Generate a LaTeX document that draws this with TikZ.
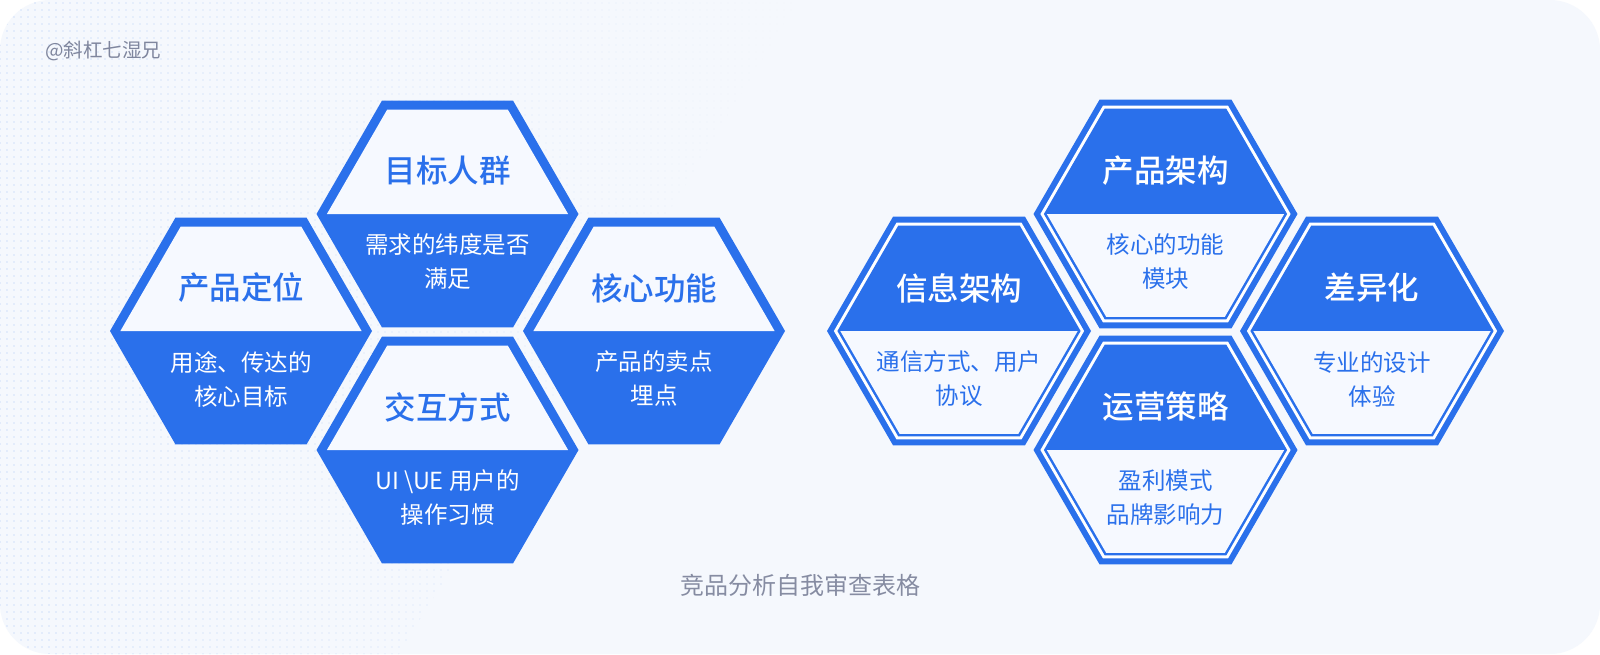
\documentclass[tikz,border=0pt]{standalone}
\usepackage{fontspec}
\setmainfont{Noto Sans CJK SC}
\newfontfamily\cjkmed{Noto Sans CJK SC Medium}
\usetikzlibrary{patterns.meta,fadings}
\definecolor{hexblue}{HTML}{2A70EB}
\definecolor{panel}{HTML}{F5F8FD}
\definecolor{innerfill}{HTML}{F6F9FF}
\definecolor{dotblue}{HTML}{A6C4F5}
\definecolor{captgray}{HTML}{868CA2}
\definecolor{markgray}{HTML}{7F869E}
\tikzfading[name=dotfade, left color=transparent!0, right color=transparent!100]
\tikzset{
  lefttitle/.style={font=\cjkmed\fontsize{31.5}{36}\selectfont, text=hexblue, inner sep=0pt},
  leftsub/.style={font=\fontsize{23.5}{34}\selectfont, text=white, align=center, inner sep=0pt},
  righttitle/.style={font=\cjkmed\fontsize{31.5}{36}\selectfont, text=white, inner sep=0pt},
  rightsub/.style={font=\fontsize{23.5}{34}\selectfont, text=hexblue, align=center, inner sep=0pt},
}
% cx cy name title sub
\newcommand{\lefthex}[5]{%
  \coordinate (#3) at (#1,#2);
  \fill[hexblue] (#1-131,#2) -- (#1-65.5,#2-113.45) -- (#1+65.5,#2-113.45) -- (#1+131,#2) -- (#1+65.5,#2+113.45) -- (#1-65.5,#2+113.45) -- cycle;
  \fill[innerfill] (#1-120.6,#2) -- (#1-60.3,#2-104.44) -- (#1+60.3,#2-104.44) -- (#1+120.6,#2) -- cycle;
  \node[lefttitle] (#3-t) at (#1,#2-43) {#4};
  \node[leftsub] (#3-s) at (#1,#2+48) {#5};
}
\newcommand{\righthex}[5]{%
  \coordinate (#3) at (#1,#2);
  \fill[hexblue] (#1-132,#2) -- (#1-66,#2-114.3) -- (#1+66,#2-114.3) -- (#1+132,#2) -- (#1+66,#2+114.3) -- (#1-66,#2+114.3) -- cycle;
  \fill[white] (#1-125.1,#2) -- (#1-62.55,#2-108.3) -- (#1+62.55,#2-108.3) -- (#1+125.1,#2) -- (#1+62.55,#2+108.3) -- (#1-62.55,#2+108.3) -- cycle;
  \fill[hexblue] (#1-121.6,#2) -- (#1-60.8,#2-105.3) -- (#1+60.8,#2-105.3) -- (#1+121.6,#2) -- (#1+60.8,#2+105.3) -- (#1-60.8,#2+105.3) -- cycle;
  \fill[innerfill] (#1-118.7,#2) -- (#1+118.7,#2) -- (#1+59.35,#2+102.8) -- (#1-59.35,#2+102.8) -- cycle;
  \node[righttitle] (#3-t) at (#1,#2-43) {#4};
  \node[rightsub] (#3-s) at (#1,#2+48) {#5};
}
\begin{document}
\begin{tikzpicture}[x=1pt,y=-1pt]
\useasboundingbox (0,0) rectangle (1600,654);
\fill[white] (0,0) rectangle (1600,654);
\fill[panel, rounded corners=50pt] (0,0) rectangle (1600,654);
\begin{scope}
  \clip[rounded corners=50pt] (0,0) rectangle (1600,654);
  \fill[pattern={Dots[distance=7pt,radius=0.55pt]}, pattern color=dotblue, path fading=dotfade]
    (0,0) -- (800,0) -- (400,654) -- (0,654) -- cycle;
\end{scope}

\node[font=\fontsize{19.5}{22}\selectfont, text=markgray, anchor=west, inner sep=0pt] (mark) at (45,51) {@斜杠七湿兄};

\lefthex{241}{331}{pos}{产品定位}{用途、传达的\\核心目标}
\lefthex{447.5}{214}{user}{目标人群}{需求的纬度是否\\满足}
\lefthex{447.5}{450}{inter}{交互方式}{UI \textbackslash UE 用户的\\操作习惯}
\lefthex{654}{331}{core}{核心功能}{产品的卖点\\埋点}

\righthex{959}{331}{info}{信息架构}{通信方式、用户\\协议}
\righthex{1165.5}{214}{arch}{产品架构}{核心的功能\\模块}
\righthex{1165.5}{450}{ops}{运营策略}{盈利模式\\品牌影响力}
\righthex{1372}{331}{diff}{差异化}{专业的设计\\体验}

\node[font=\fontsize{24}{26}\selectfont, text=captgray, inner sep=0pt] (caption) at (800,585) {竞品分析自我审查表格};
\end{tikzpicture}
\end{document}
